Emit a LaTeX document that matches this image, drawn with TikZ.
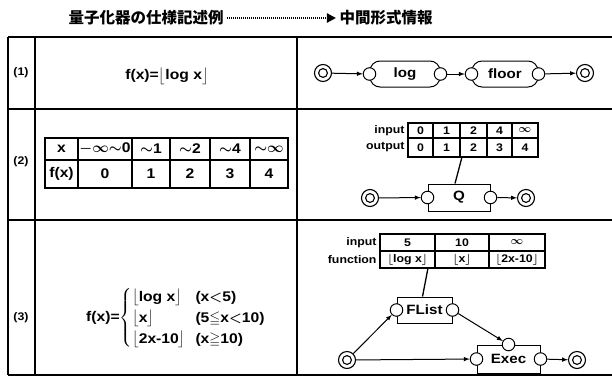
\documentclass[tikz,border=0pt]{standalone}
\usepackage{amsmath,amssymb}
\usepackage{fontspec}
\setmainfont[FakeStretch=1.12]{Liberation Sans}
\newfontfamily\jpfont{Noto Sans CJK JP}
\usetikzlibrary{positioning,arrows.meta}

\tikzset{
  term/.style={circle,draw,line width=1.1pt,minimum size=17pt,inner sep=0pt,
    path picture={\draw[line width=1.1pt] (path picture bounding box.center) circle (4.4pt);}},
  port/.style={circle,draw,line width=1pt,fill=white,minimum size=12.5pt,inner sep=0pt},
  func/.style={draw,line width=1pt,rounded corners=10pt,minimum height=26pt,inner sep=0pt,
    font=\fontsize{13.5}{13.5}\selectfont\bfseries},
  proc/.style={draw,line width=1pt,minimum height=27pt,inner sep=0pt,
    font=\fontsize{13.5}{13.5}\selectfont\bfseries},
  flow/.style={line width=1pt,->,>=latex},
  frame/.style={line width=1.7pt},
  bigcell/.style={font=\fontsize{14}{14}\selectfont\bfseries\boldmath},
  cell/.style={font=\fontsize{11}{11}\selectfont\bfseries\boldmath},
}

\begin{document}
\begin{tikzpicture}[x=1pt,y=-1pt]
            \useasboundingbox (0,0) rectangle (612,378);
            % title
            \node[font=\jpfont\fontsize{15.5}{15.5}\selectfont\bfseries] (spec) at (146,18) {量子化器の仕様記述例};
            \node[font=\jpfont\fontsize{15.5}{15.5}\selectfont\bfseries] (ir) at (386,18) {中間形式情報};
            \draw[line width=2.4pt,dash pattern=on 1.2pt off 0.8pt,
                -{Triangle[length=9pt,width=9pt]}] (spec) -- (ir);
            % frame
            \draw[frame] (8,37) -- (8,375);
            \draw[frame] (35,37) -- (35,375);
            \draw[frame] (297,37) -- (297,375);
            \foreach \y in {37,109,220,375}
                \draw[frame] (8,\y) -- (612,\y);
            \node[cell] (n1) at (21,73) {(1)};
            \node[cell] (n2) at (21,162) {(2)};
            \node[cell] (n3) at (21,318) {(3)};

            % (1)
            \node[bigcell] (f1) at (167,76) {f(x)=$\big\lfloor$log x$\big\rfloor$};
            \node[term] (s1) at (323,73) {};
            \node[func,minimum width=70pt] (log) at (405,74) {log};
            \node[func,minimum width=66pt] (floor) at (505,74) {floor};
            \node[term] (e1) at (585,73) {};
            \node[port] (login) at (log.west) {};
            \node[port] (logout) at (log.east) {};
            \node[port] (floorin) at (floor.west) {};
            \node[port] (floorout) at (floor.east) {};
            \draw[flow] (s1) -- (login);
            \draw[flow] (logout) -- (floorin);
            \draw[flow] (floorout) -- (e1);

            % (2) quantize table
            \draw[line width=1.3pt] (45,138) rectangle (288,188);
            \draw[line width=1.3pt] (45,160) -- (288,160);
            \foreach \x in {78,132,170,210,250}
                \draw[line width=1.3pt] (\x,138) -- (\x,188);
            \foreach \x/\v [count=\i] in {61.5/x,105/{${-}{\infty}{\sim}$0},151/{${\sim}$1},
                    190/{${\sim}$2},230/{${\sim}$4},269/{${\sim}{\infty}$}}
                \node[bigcell] (xa\i) at (\x,149) {\v};
            \foreach \x/\v [count=\i] in {61.5/f(x),105/0,151/1,190/2,230/3,269/4}
                \node[bigcell] (fa\i) at (\x,174) {\v};

            % (2) intermediate form
            \draw[line width=1.1pt] (408,123) rectangle (538,157);
            \draw[line width=1.1pt] (408,138) -- (538,138);
            \foreach \x in {433,460,487,512}
                \draw[line width=1.1pt] (\x,123) -- (\x,157);
            \node[cell,anchor=east] (inq) at (408,130.5) {input};
            \node[cell,anchor=east] (outq) at (408,147.5) {output};
            \foreach \x/\v [count=\i] in {420.5/0,446.5/1,473.5/2,499.5/4,525/$\infty$}
                \node[cell] (qi\i) at (\x,130.5) {\v};
            \foreach \x/\v [count=\i] in {420.5/0,446.5/1,473.5/2,499.5/3,525/4}
                \node[cell] (qo\i) at (\x,147.5) {\v};
            \coordinate (qlink) at (462,157);
            \node[term] (s2) at (370,198) {};
            \node[proc,minimum width=62pt] (Q) at (459,197.5) {Q};
            \node[term] (e2) at (526,198) {};
            \node[port] (Qin) at (Q.west) {};
            \node[port] (Qout) at (Q.east) {};
            \draw[line width=1.3pt] (qlink) -- ([xshift=-4pt]Q.north);
            \draw[flow] (s2) -- (Qin);
            \draw[flow] (Qout) -- (e2);

            % (3) cases
            \node[bigcell] (f3) at (176,318) {f(x)=$\left\{\renewcommand{\arraystretch}{1.5}%
                \begin{tabular}{@{}l@{\hspace{10pt}}l@{}}
                $\big\lfloor$log x$\big\rfloor$ & (x$<$5)\\
                $\big\lfloor$x$\big\rfloor$ & (5$\leqq$x$<$10)\\
                $\big\lfloor$2x-10$\big\rfloor$ & (x$\geqq$10)
                \end{tabular}\right.$};

            % (3) intermediate form
            \draw[line width=1.1pt] (380,234) rectangle (545,268);
            \draw[line width=1.1pt] (380,251) -- (545,251);
            \foreach \x in {435,489}
                \draw[line width=1.1pt] (\x,234) -- (\x,268);
            \node[cell,anchor=east] (inf) at (380,242.5) {input};
            \node[cell,anchor=east] (fun) at (380,259.5) {function};
            \foreach \x/\v [count=\i] in {407.5/5,462/10,517/$\infty$}
                \node[cell] (fi\i) at (\x,242.5) {\v};
            \foreach \x/\v [count=\i] in {407.5/{$\lfloor$log x$\rfloor$},462/{$\lfloor$x$\rfloor$},
                    517/{$\lfloor$2x-10$\rfloor$}}
                \node[cell] (ff\i) at (\x,259.5) {\v};
            \coordinate (flink) at (428,268);
            \node[proc,minimum width=55pt,minimum height=26pt] (FL) at (424.5,310) {FList};
            \node[proc,minimum width=63pt,minimum height=28pt] (Ex) at (508.5,359) {Exec};
            \node[term] (s3) at (347,360) {};
            \node[term] (e3) at (577,360) {};
            \node[port] (FLin) at (FL.west) {};
            \node[port] (FLout) at (FL.east) {};
            \node[port] (Exin) at (Ex.west) {};
            \node[port] (Exout) at (Ex.east) {};
            \node[port] (Extop) at (Ex.north) {};
            \draw[line width=1.3pt] (flink) -- ([xshift=-2pt]FL.north);
            \draw[flow] (s3) -- (FLin);
            \draw[flow] (s3) -- (Exin);
            \draw[flow] (FLout) -- (Extop);
            \draw[flow] (Exout) -- (e3);
\end{tikzpicture}
\end{document}
